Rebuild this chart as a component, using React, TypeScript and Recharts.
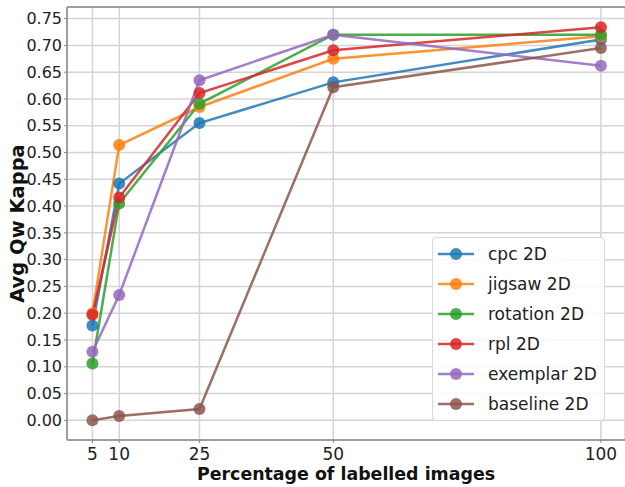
import { CartesianGrid, Label, Line, LineChart, ReferenceLine, XAxis, YAxis } from 'recharts';

const percentages = [5, 10, 25, 50, 100];
const cpc2D = [0.177, 0.442, 0.555, 0.631, 0.711];
const jigsaw2D = [0.2, 0.514, 0.585, 0.675, 0.717];
const rotation2D = [0.106, 0.405, 0.591, 0.72, 0.72];
const rpl2D = [0.197, 0.416, 0.611, 0.691, 0.734];
const exemplar2D = [0.128, 0.234, 0.635, 0.72, 0.662];
const baseline2D = [0.0, 0.008, 0.021, 0.622, 0.695];
const yTicks = [0, 0.05, 0.1, 0.15, 0.2, 0.25, 0.3, 0.35, 0.4, 0.45, 0.5, 0.55, 0.6, 0.65, 0.7, 0.75];

const series = [
  { key: 'cpc', name: 'cpc 2D', values: cpc2D, color: '#1f77b4' },
  { key: 'jigsaw', name: 'jigsaw 2D', values: jigsaw2D, color: '#ff7f0e' },
  { key: 'rotation', name: 'rotation 2D', values: rotation2D, color: '#2ca02c' },
  { key: 'rpl', name: 'rpl 2D', values: rpl2D, color: '#d62728' },
  { key: 'exemplar', name: 'exemplar 2D', values: exemplar2D, color: '#9467bd' },
  { key: 'baseline', name: 'baseline 2D', values: baseline2D, color: '#8c564b' },
];

const data = percentages.map((pct, i) => {
  const row: Record<string, number> = { pct };
  series.forEach((s) => (row[s.key] = s.values[i]));
  return row;
});

const FONT = '"DejaVu Sans", sans-serif';
const Y_MIN = -0.0367;
const Y_MAX = 0.7717;

// matplotlib-style legend box, placed over the lower right of the plot
function LegendBox() {
  return (
    <div
      style={{
        position: 'absolute',
        left: 432,
        top: 237,
        width: 171,
        height: 181,
        border: '1px solid #d8d8d8',
        borderRadius: 4,
        background: 'rgba(255,255,255,0.85)',
        fontFamily: FONT,
        fontSize: 17,
        color: '#222',
        paddingTop: 1,
      }}
    >
      {series.map((s) => (
        <div key={s.key} style={{ display: 'flex', alignItems: 'center', height: 30 }}>
          <svg width={52} height={14} style={{ flex: 'none' }}>
            <line x1={5} x2={41} y1={7} y2={7} stroke={s.color} strokeWidth={2.5} strokeOpacity={0.85} />
            <circle cx={23} cy={7} r={6} fill={s.color} fillOpacity={0.85} />
          </svg>
          <span style={{ marginLeft: 3 }}>{s.name}</span>
        </div>
      ))}
    </div>
  );
}

export default function App() {
  return (
    <div style={{ width: 625, height: 487, position: 'absolute', left: 0, top: 0, background: '#fff' }}>
      <LineChart width={625} height={487} data={data} margin={{ top: 7, right: 0, bottom: 0, left: 0 }}>
        <CartesianGrid stroke="#d4d4d4" strokeWidth={1.5} />
        <XAxis
          dataKey="pct"
          type="number"
          domain={[0.25, 104.5]}
          ticks={percentages}
          interval={0}
          height={47}
          stroke="#888"
          strokeWidth={1.5}
          tickLine={{ stroke: '#888', strokeWidth: 1 }}
          tickSize={3}
          tickMargin={5}
          tick={{ fill: '#222', fontFamily: FONT, fontSize: 17 }}
        >
          <Label
            content={({ viewBox }: any) => (
              <text
                x={viewBox.x + viewBox.width / 2}
                y={480}
                textAnchor="middle"
                fontFamily={FONT}
                fontWeight="bold"
                fontSize={17.4}
                fill="#111"
              >
                Percentage of labelled images
              </text>
            )}
          />
        </XAxis>
        <YAxis
          type="number"
          domain={[Y_MIN, Y_MAX]}
          ticks={yTicks}
          interval={0}
          width={67}
          stroke="#888"
          strokeWidth={1.5}
          tickLine={{ stroke: '#888', strokeWidth: 1 }}
          tickSize={3}
          tickMargin={2}
          tickFormatter={(v: number) => v.toFixed(2)}
          tick={{ fill: '#222', fontFamily: FONT, fontSize: 16 }}
        >
          <Label
            content={({ viewBox }: any) => {
              const cy = viewBox.y + viewBox.height / 2;
              return (
                <text
                  x={17}
                  y={cy}
                  transform={`rotate(-90 17 ${cy})`}
                  textAnchor="middle"
                  dominantBaseline="central"
                  fontFamily={FONT}
                  fontWeight="bold"
                  fontSize={19.5}
                  fill="#111"
                >
                  Avg Qw Kappa
                </text>
              );
            }}
          />
        </YAxis>
        <ReferenceLine y={Y_MAX} stroke="#888" strokeWidth={1.5} />
        {series.map((s) => (
          <Line
            key={s.key}
            dataKey={s.key}
            name={s.name}
            stroke={s.color}
            strokeOpacity={0.85}
            strokeWidth={2.5}
            dot={{ r: 6, fill: s.color, fillOpacity: 0.85, stroke: 'none' }}
            activeDot={false}
            isAnimationActive={false}
          />
        ))}
      </LineChart>
      <LegendBox />
    </div>
  );
}
